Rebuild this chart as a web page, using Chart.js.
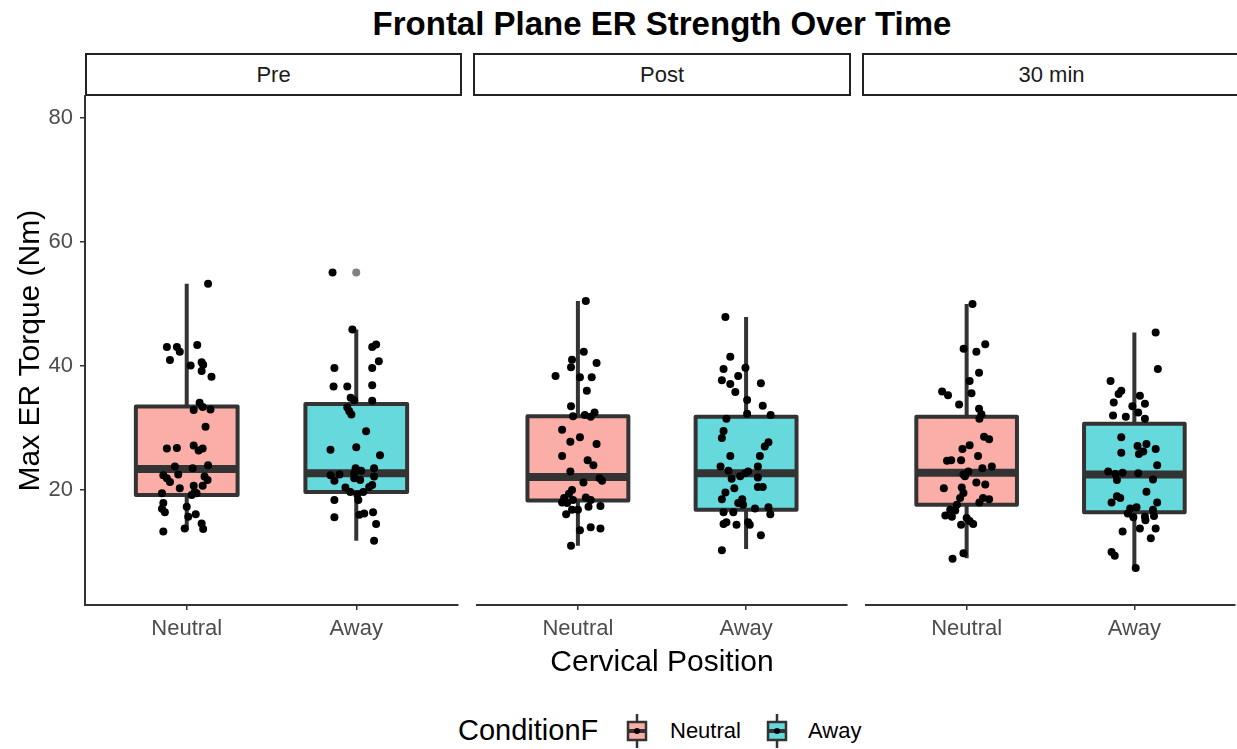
<!DOCTYPE html>
<html>
<head>
<meta charset="utf-8">
<script src="https://cdn.jsdelivr.net/npm/chart.js@4.4.1/dist/chart.umd.min.js"></script>
<style>
  html, body { margin: 0; padding: 0; background: #fff; overflow: hidden; }
  body { width: 1237px; height: 749px; position: relative; font-family: 'Liberation Sans', Arial, sans-serif; }
  canvas { position: absolute; }
  .txt { position: absolute; white-space: nowrap; }
  .strip { position: absolute; top: 53px; height: 43px; box-sizing: border-box; border: 2px solid #222;
           display: flex; align-items: center; justify-content: center; font-size: 22px; color: #1a1a1a; }
</style>
</head>
<body>
<div class="txt" style="left:85px;width:1154px;top:7px;text-align:center;font-size:33px;line-height:33px;font-weight:bold;color:#000">Frontal Plane ER Strength Over Time</div>
<div class="strip" style="left:85px;width:377px">Pre</div>
<div class="strip" style="left:473px;width:378px">Post</div>
<div class="strip" style="left:862px;width:379px">30 min</div>
<canvas id="c1" width="462" height="573" style="left:0;top:76px"></canvas>
<canvas id="c2" width="378" height="573" style="left:473px;top:76px"></canvas>
<canvas id="c3" width="377" height="573" style="left:862px;top:76px"></canvas>
<div class="txt" style="left:85px;width:1154px;top:646px;text-align:center;font-size:30px;line-height:30px;color:#000">Cervical Position</div>
<div class="txt" style="left:458px;top:716px;font-size:29px;line-height:29px;color:#000">ConditionF</div>
<canvas id="k1" width="30" height="36" style="left:622px;top:713px"></canvas>
<div class="txt" style="left:670px;top:720px;font-size:22px;line-height:22px;color:#000">Neutral</div>
<canvas id="k2" width="30" height="36" style="left:762px;top:713px"></canvas>
<div class="txt" style="left:808px;top:720px;font-size:22px;line-height:22px;color:#000">Away</div>
<script>
const facets = ['Pre', 'Post', '30 min'];
const positions = ['Neutral', 'Away'];
const yTicks = [20, 40, 60, 80];
const fills = ['rgba(248,118,109,0.6)', 'rgba(0,191,196,0.6)'];

// box stats: [lower whisker, Q1, median, Q3, upper whisker]
const preNeutralBox = [13.5, 19.2, 23.4, 33.5, 53.3];
const preAwayBox = [11.8, 19.7, 22.7, 33.9, 45.9];
const postNeutralBox = [11.0, 18.3, 22.1, 31.9, 50.5];
const postAwayBox = [10.5, 16.8, 22.7, 31.8, 47.9];
const min30NeutralBox = [9.0, 17.6, 22.8, 31.8, 50.0];
const min30AwayBox = [7.4, 16.4, 22.5, 30.7, 45.4];
const preAwayOutliers = [55.1];

// jittered observations (value, horizontal jitter in category units)
const preNeutral = [53.3, 43.1, 43.1, 42.3, 43.4, 41.0, 40.1, 40.6, 40.2, 39.2, 38.3, 34.1, 32.9, 33.4, 33.0, 30.2,
  26.7, 26.8, 27.2, 26.4, 26.7, 23.8, 23.5, 24.0, 22.4, 21.9, 22.5, 21.3, 22.2, 21.6, 20.3, 20.7, 20.7, 19.5,
  19.2, 19.5, 17.9, 17.0, 16.4, 17.3, 16.1, 15.7, 13.8, 14.6, 13.7, 13.3, 19.7];
const preNeutralJitter = [0.126, -0.117, -0.058, -0.041, 0.062, -0.099, 0.023, 0.088, 0.097, 0.088, 0.146, 0.076, 0.041, 0.094, 0.140, 0.111,
  -0.117, -0.058, 0.041, 0.070, 0.094, -0.070, 0.035, 0.126, -0.138, -0.117, -0.050, -0.099, 0.105, 0.123, -0.041, 0.041, 0.094, -0.146,
  0.029, 0.058, -0.138, -0.146, -0.129, 0.000, 0.053, 0.009, -0.012, 0.088, 0.097, -0.138, 0.047];

const preAway = [55.1, 45.9, 43.5, 43.1, 40.8, 39.7, 39.7, 36.7, 36.7, 36.9, 34.9, 34.5, 34.4, 33.3, 32.7, 32.2,
  29.5, 26.5, 26.9, 25.6, 23.5, 23.1, 23.5, 22.4, 22.5, 21.5, 21.9, 21.6, 22.2, 20.8, 20.4, 19.7, 19.3, 19.7,
  20.5, 18.4, 18.4, 16.0, 16.2, 16.4, 15.6, 14.5, 11.8, 22.7];
const preAwayJitter = [-0.140, -0.023, 0.117, 0.094, 0.133, -0.129, 0.094, -0.134, -0.053, 0.094, -0.033, -0.012, 0.094, -0.053, -0.041, -0.029,
  0.058, -0.152, 0.000, 0.140, -0.004, 0.029, 0.105, -0.152, -0.099, -0.129, -0.012, 0.023, 0.105, 0.094, -0.064, -0.035, 0.006, 0.041,
  0.076, -0.129, 0.012, 0.018, 0.047, 0.099, -0.129, 0.117, 0.105, -0.012];

const postNeutral = [50.5, 42.3, 41.0, 40.5, 39.8, 38.4, 38.2, 38.2, 36.0, 33.5, 31.9, 32.1, 31.8, 32.5, 29.7, 28.5,
  27.8, 27.4, 25.5, 24.8, 24.0, 23.0, 21.9, 21.5, 21.2, 20.0, 19.4, 18.7, 18.0, 18.4, 18.8, 18.4, 17.3, 17.4,
  16.8, 16.8, 16.1, 13.5, 14.0, 13.8, 11.0, 17.9];
const postNeutralJitter = [0.047, 0.035, -0.035, 0.111, -0.041, -0.133, 0.012, 0.082, 0.053, -0.041, -0.029, 0.041, 0.076, 0.099, -0.094, 0.012,
  -0.045, 0.111, -0.094, 0.058, 0.092, -0.045, 0.129, 0.144, 0.033, -0.035, -0.053, -0.082, -0.094, -0.029, 0.047, 0.076, 0.063, 0.134,
  -0.035, 0.000, -0.070, 0.012, 0.076, 0.134, -0.041, -0.064];

const postAway = [47.9, 41.5, 39.5, 39.7, 38.4, 37.7, 37.1, 37.2, 35.8, 34.5, 33.6, 32.3, 32.1, 31.5, 29.5, 28.4,
  27.7, 27.0, 25.5, 25.5, 23.8, 23.8, 23.1, 22.2, 22.7, 23.0, 21.8, 22.0, 20.5, 20.5, 20.3, 19.6, 18.5, 18.5,
  17.9, 17.6, 17.0, 17.2, 16.1, 16.4, 16.4, 14.8, 14.5, 14.4, 14.8, 14.4, 12.7, 10.3];
const postAwayJitter = [-0.123, -0.094, -0.134, -0.004, -0.047, -0.144, -0.094, 0.088, -0.064, 0.006, 0.099, 0.006, 0.146, -0.117, -0.134, -0.144,
  0.133, 0.111, -0.094, 0.082, -0.152, 0.070, -0.105, -0.035, -0.006, 0.012, -0.086, 0.070, 0.070, 0.099, -0.070, -0.123, -0.144, -0.023,
  -0.047, -0.018, 0.053, 0.133, 0.144, -0.134, -0.076, -0.117, -0.134, -0.057, 0.012, 0.022, 0.088, -0.144];

const min30Neutral = [50.0, 42.8, 42.3, 43.5, 38.9, 37.6, 35.9, 35.3, 35.6, 33.8, 33.1, 32.2, 31.5, 28.6, 28.2, 27.2,
  26.6, 25.5, 24.7, 24.8, 24.8, 23.5, 23.8, 22.5, 23.0, 22.2, 20.3, 21.2, 20.9, 20.4, 19.5, 18.7, 18.7, 18.5,
  18.0, 17.6, 16.8, 15.9, 15.7, 15.5, 15.0, 14.5, 14.4, 9.8, 8.9, 16.7];
const min30NeutralJitter = [0.035, -0.018, 0.058, 0.111, 0.074, 0.018, -0.146, -0.111, 0.029, -0.045, 0.074, 0.088, 0.076, 0.104, 0.134, 0.018,
  -0.025, 0.068, -0.117, -0.092, -0.033, 0.094, 0.150, -0.019, 0.010, -0.010, -0.136, 0.058, 0.111, -0.029, -0.019, -0.039, 0.098, 0.134,
  0.076, -0.058, -0.098, -0.127, -0.088, 0.000, 0.018, 0.039, -0.033, -0.019, -0.084, -0.068];

const min30Away = [45.4, 39.5, 37.6, 36.0, 35.5, 35.2, 34.1, 33.9, 33.5, 32.5, 32.0, 31.8, 31.5, 28.5, 27.1, 27.4,
  26.6, 26.0, 25.8, 26.2, 24.0, 23.0, 22.6, 22.8, 22.7, 21.6, 21.7, 19.7, 19.0, 18.7, 18.0, 18.0, 17.0, 17.2,
  16.2, 15.6, 15.7, 16.8, 15.8, 15.1, 13.8, 13.8, 13.3, 12.2, 10.0, 9.4, 7.4];
const min30AwayJitter = [0.127, 0.140, -0.142, -0.078, -0.094, 0.033, -0.123, 0.063, -0.012, 0.023, -0.127, -0.051, 0.063, -0.078, 0.019, 0.072,
  0.127, -0.078, 0.027, 0.053, 0.136, -0.156, -0.113, -0.070, 0.023, -0.104, 0.111, 0.072, -0.104, -0.084, -0.136, 0.136, -0.025, 0.013,
  -0.039, -0.006, 0.063, 0.111, 0.117, 0.066, 0.033, 0.127, -0.070, 0.098, -0.136, -0.117, 0.008];

const FONT = "'Liberation Sans', Arial, sans-serif";
const INK = '#333333';

function jittered(values, jitter, pos) {
  return values.map((v, i) => ({ x: pos + jitter[i], y: v }));
}

// draws ggplot-style boxplots through the chart's own scales
function boxPlugin(stats) {
  return {
    id: 'boxes',
    beforeDatasetsDraw(chart) {
      const { ctx, scales: { x, y } } = chart;
      ctx.save();
      ctx.strokeStyle = INK;
      ctx.lineJoin = 'round';
      stats.forEach((s, i) => {
        const pos = i + 1;
        const cx = x.getPixelForValue(pos);
        const l = x.getPixelForValue(pos - 0.3), r = x.getPixelForValue(pos + 0.3);
        const [lo, q1, med, q3, hi] = s.map(v => y.getPixelForValue(v));
        ctx.lineWidth = 4;
        ctx.beginPath();
        ctx.moveTo(cx, hi); ctx.lineTo(cx, q3);
        ctx.moveTo(cx, q1); ctx.lineTo(cx, lo);
        ctx.stroke();
        ctx.fillStyle = fills[i];
        ctx.fillRect(l, q3, r - l, q1 - q3);
        ctx.strokeRect(l, q3, r - l, q1 - q3);
        ctx.lineWidth = 8;
        ctx.beginPath();
        ctx.moveTo(l, med); ctx.lineTo(r, med);
        ctx.stroke();
      });
      ctx.restore();
    }
  };
}

function makePanel(id, stats, neutralPts, awayPts, outliers, first) {
  const axisGrid = { display: true, drawOnChartArea: false, drawTicks: true, tickLength: 5, color: INK, lineWidth: 1.5 };
  const axisBorder = { display: true, color: INK, width: 2 };
  const dot = { pointRadius: 4, pointBorderWidth: 0 };
  return new Chart(document.getElementById(id), {
    type: 'scatter',
    data: {
      datasets: [
        { data: outliers.map(v => ({ x: 2, y: v })), ...dot, backgroundColor: '#808080' },
        { data: neutralPts, ...dot, backgroundColor: '#000' },
        { data: awayPts, ...dot, backgroundColor: '#000' }
      ]
    },
    options: {
      responsive: false,
      animation: false,
      layout: { padding: { top: 20, bottom: 0, left: 0, right: 0 } },
      plugins: { legend: { display: false }, tooltip: { enabled: false } },
      scales: {
        x: {
          type: 'linear', min: 0.4, max: 2.6,
          afterBuildTicks: s => { s.ticks = [{ value: 1 }, { value: 2 }]; },
          afterFit: s => { s.height = 44; },
          ticks: { callback: v => positions[v - 1], color: '#4d4d4d', font: { size: 22, family: FONT }, padding: 6, maxRotation: 0, autoSkip: false },
          grid: axisGrid,
          border: axisBorder
        },
        y: {
          display: first,
          min: 1.45, max: 83.55,
          afterBuildTicks: s => { s.ticks = yTicks.map(v => ({ value: v })); },
          afterFit: s => { s.width = first ? 85 : 0; },
          ticks: { color: '#4d4d4d', font: { size: 22, family: FONT }, padding: 7 },
          grid: axisGrid,
          border: axisBorder,
          title: { display: true, text: 'Max ER Torque (Nm)', color: '#000', font: { size: 30, family: FONT }, padding: { top: 13, bottom: 0 } }
        }
      }
    },
    plugins: [boxPlugin(stats)]
  });
}

makePanel('c1', [preNeutralBox, preAwayBox], jittered(preNeutral, preNeutralJitter, 1), jittered(preAway, preAwayJitter, 2), preAwayOutliers, true);
makePanel('c2', [postNeutralBox, postAwayBox], jittered(postNeutral, postNeutralJitter, 1), jittered(postAway, postAwayJitter, 2), [], false);
makePanel('c3', [min30NeutralBox, min30AwayBox], jittered(min30Neutral, min30NeutralJitter, 1), jittered(min30Away, min30AwayJitter, 2), [], false);

// legend keys: boxplot glyph with a jitter dot
['k1', 'k2'].forEach((id, i) => {
  const ctx = document.getElementById(id).getContext('2d');
  ctx.strokeStyle = INK;
  ctx.lineWidth = 2.5;
  ctx.beginPath(); ctx.moveTo(15, 1); ctx.lineTo(15, 35); ctx.stroke();
  ctx.fillStyle = '#fff'; ctx.fillRect(6, 9, 18, 18);
  ctx.fillStyle = fills[i]; ctx.fillRect(6, 9, 18, 18);
  ctx.strokeRect(6, 9, 18, 18);
  ctx.lineWidth = 4;
  ctx.beginPath(); ctx.moveTo(6, 18); ctx.lineTo(24, 18); ctx.stroke();
  ctx.fillStyle = '#000';
  ctx.beginPath(); ctx.arc(15, 18, 3, 0, Math.PI * 2); ctx.fill();
});
</script>
</body>
</html>
